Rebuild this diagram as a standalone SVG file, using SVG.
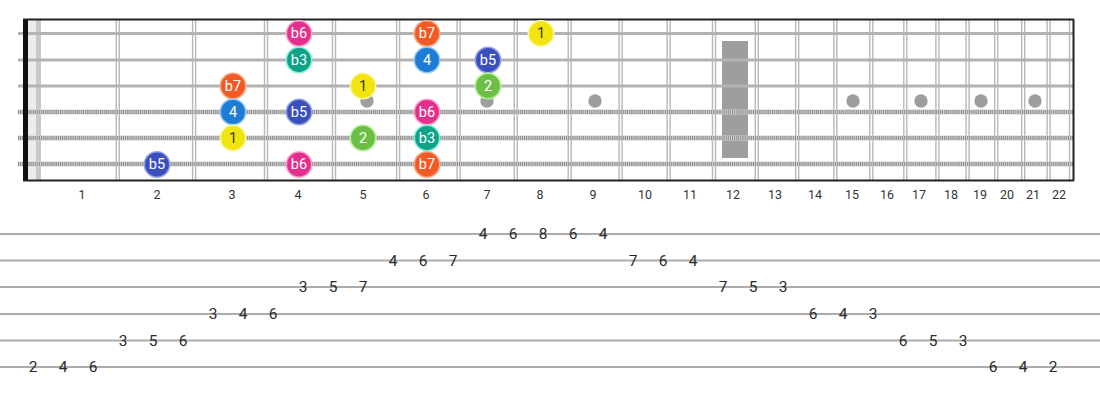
<svg xmlns="http://www.w3.org/2000/svg" width="1100" height="400" viewBox="0 0 1100 400">
<style>
.fw{stroke:#b8b8b8;stroke-width:1.4}
.ps{stroke:#b3b3b3;stroke-width:2.8}
.wb{stroke:#cfcfcf;stroke-width:5}
.wd{stroke:#8c8c8c;stroke-width:4;stroke-dasharray:1 1.1}
.dot{fill:#9e9e9e}
.fn{font-family:Roboto,"Liberation Sans",sans-serif;font-size:12.5px;fill:#333;text-anchor:middle}
.tl{stroke:#acacac;stroke-width:1.8}
.tn{font-family:Roboto,"Liberation Sans",sans-serif;font-size:15.5px;fill:#2a2a2a;text-anchor:middle;dominant-baseline:central}
.nt{font-family:Roboto,"Liberation Sans",sans-serif;font-size:14.5px;fill:#fff;text-anchor:middle;dominant-baseline:central}
.nt.dk{fill:#333}
.c{stroke-width:1.6}
.b6{fill:#e4308c;stroke:#f8a6cf}
.b7{fill:#f15a24;stroke:#f9a882}
.r1{fill:#f2e50f;stroke:#fbf6a3}
.b3{fill:#10a389;stroke:#86f0da}
.p4{fill:#1c7cd6;stroke:#8fc7f5}
.b5{fill:#3b4fbf;stroke:#97a3ea}
.s2{fill:#6bbf47;stroke:#b8f190}
</style>
<g id="fretboard">
<rect x="23" y="19" width="1051" height="162" fill="#fff"/>
<rect x="28" y="19" width="13" height="162" fill="#ececec"/>
<rect x="36" y="19" width="5" height="162" fill="#c9c9c9"/>
<g id="frets">
<line class="fw" x1="116.3" y1="20" x2="116.3" y2="180"/><line class="fw" x1="119.3" y1="20" x2="119.3" y2="180"/>
<line class="fw" x1="192.6" y1="20" x2="192.6" y2="180"/><line class="fw" x1="195.6" y1="20" x2="195.6" y2="180"/>
<line class="fw" x1="264.5" y1="20" x2="264.5" y2="180"/><line class="fw" x1="267.5" y1="20" x2="267.5" y2="180"/>
<line class="fw" x1="332.5" y1="20" x2="332.5" y2="180"/><line class="fw" x1="335.5" y1="20" x2="335.5" y2="180"/>
<line class="fw" x1="396.6" y1="20" x2="396.6" y2="180"/><line class="fw" x1="399.6" y1="20" x2="399.6" y2="180"/>
<line class="fw" x1="457.1" y1="20" x2="457.1" y2="180"/><line class="fw" x1="460.1" y1="20" x2="460.1" y2="180"/>
<line class="fw" x1="514.3" y1="20" x2="514.3" y2="180"/><line class="fw" x1="517.3" y1="20" x2="517.3" y2="180"/>
<line class="fw" x1="568.2" y1="20" x2="568.2" y2="180"/><line class="fw" x1="571.2" y1="20" x2="571.2" y2="180"/>
<line class="fw" x1="619.1" y1="20" x2="619.1" y2="180"/><line class="fw" x1="622.1" y1="20" x2="622.1" y2="180"/>
<line class="fw" x1="667.2" y1="20" x2="667.2" y2="180"/><line class="fw" x1="670.2" y1="20" x2="670.2" y2="180"/>
<line class="fw" x1="712.5" y1="20" x2="712.5" y2="180"/><line class="fw" x1="715.5" y1="20" x2="715.5" y2="180"/>
<line class="fw" x1="755.3" y1="20" x2="755.3" y2="180"/><line class="fw" x1="758.3" y1="20" x2="758.3" y2="180"/>
<line class="fw" x1="795.7" y1="20" x2="795.7" y2="180"/><line class="fw" x1="798.7" y1="20" x2="798.7" y2="180"/>
<line class="fw" x1="833.8" y1="20" x2="833.8" y2="180"/><line class="fw" x1="836.8" y1="20" x2="836.8" y2="180"/>
<line class="fw" x1="869.8" y1="20" x2="869.8" y2="180"/><line class="fw" x1="872.8" y1="20" x2="872.8" y2="180"/>
<line class="fw" x1="903.8" y1="20" x2="903.8" y2="180"/><line class="fw" x1="906.8" y1="20" x2="906.8" y2="180"/>
<line class="fw" x1="935.9" y1="20" x2="935.9" y2="180"/><line class="fw" x1="938.9" y1="20" x2="938.9" y2="180"/>
<line class="fw" x1="966.1" y1="20" x2="966.1" y2="180"/><line class="fw" x1="969.1" y1="20" x2="969.1" y2="180"/>
<line class="fw" x1="994.7" y1="20" x2="994.7" y2="180"/><line class="fw" x1="997.7" y1="20" x2="997.7" y2="180"/>
<line class="fw" x1="1021.7" y1="20" x2="1021.7" y2="180"/><line class="fw" x1="1024.7" y1="20" x2="1024.7" y2="180"/>
<line class="fw" x1="1047.1" y1="20" x2="1047.1" y2="180"/><line class="fw" x1="1050.1" y1="20" x2="1050.1" y2="180"/>
<line class="fw" x1="1069.5" y1="20" x2="1069.5" y2="180"/>
</g>
<g id="inlays">
<circle class="dot" cx="367" cy="101" r="6.7"/>
<circle class="dot" cx="487" cy="101" r="6.7"/>
<circle class="dot" cx="595" cy="101" r="6.7"/>
<rect class="dot" x="722" y="41" width="26" height="117"/>
<circle class="dot" cx="853" cy="101" r="6.7"/>
<circle class="dot" cx="921" cy="101" r="6.7"/>
<circle class="dot" cx="981" cy="101" r="6.7"/>
<circle class="dot" cx="1035" cy="101" r="6.7"/>
</g>
<g id="strings">
<line class="ps" x1="18" y1="33.5" x2="1074" y2="33.5"/>
<line class="ps" x1="18" y1="60" x2="1074" y2="60"/>
<line class="ps" x1="18" y1="86" x2="1074" y2="86"/>
<line class="wb" x1="18" y1="112" x2="1074" y2="112"/><line class="wd" x1="18" y1="112" x2="1074" y2="112"/>
<line class="wb" x1="18" y1="138" x2="1074" y2="138"/><line class="wd" x1="18" y1="138" x2="1074" y2="138"/>
<line class="wb" x1="18" y1="164" x2="1074" y2="164"/><line class="wd" x1="18" y1="164" x2="1074" y2="164"/>
</g>
<rect x="23" y="19" width="5" height="162" fill="#111"/>
<line x1="23" y1="19.5" x2="1074" y2="19.5" stroke="#222" stroke-width="2"/>
<line x1="23" y1="180.5" x2="1074" y2="180.5" stroke="#222" stroke-width="2"/>
<line x1="1073.5" y1="19" x2="1073.5" y2="181" stroke="#222" stroke-width="2"/>
</g>
<g id="fret-numbers">
<text class="fn" x="82" y="199">1</text>
<text class="fn" x="157" y="199">2</text>
<text class="fn" x="232" y="199">3</text>
<text class="fn" x="298" y="199">4</text>
<text class="fn" x="363" y="199">5</text>
<text class="fn" x="426" y="199">6</text>
<text class="fn" x="487" y="199">7</text>
<text class="fn" x="540" y="199">8</text>
<text class="fn" x="593" y="199">9</text>
<text class="fn" x="645" y="199">10</text>
<text class="fn" x="690" y="199">11</text>
<text class="fn" x="733" y="199">12</text>
<text class="fn" x="775" y="199">13</text>
<text class="fn" x="815" y="199">14</text>
<text class="fn" x="852" y="199">15</text>
<text class="fn" x="887" y="199">16</text>
<text class="fn" x="919" y="199">17</text>
<text class="fn" x="951" y="199">18</text>
<text class="fn" x="980" y="199">19</text>
<text class="fn" x="1007" y="199">20</text>
<text class="fn" x="1033" y="199">21</text>
<text class="fn" x="1059" y="199">22</text>
</g>
<g id="notes">
<g id="n-s1-f4"><circle class="c b6" cx="299" cy="33.5" r="12.7"/><text class="nt" x="299" y="33.5">b6</text></g>
<g id="n-s1-f6"><circle class="c b7" cx="427" cy="33.5" r="12.7"/><text class="nt" x="427" y="33.5">b7</text></g>
<g id="n-s1-f8"><circle class="c r1" cx="541" cy="33.5" r="12.7"/><text class="nt dk" x="541" y="33.5">1</text></g>
<g id="n-s2-f4"><circle class="c b3" cx="299" cy="60" r="12.7"/><text class="nt" x="299" y="60">b3</text></g>
<g id="n-s2-f6"><circle class="c p4" cx="427" cy="60" r="12.7"/><text class="nt" x="427" y="60">4</text></g>
<g id="n-s2-f7"><circle class="c b5" cx="488" cy="60" r="12.7"/><text class="nt" x="488" y="60">b5</text></g>
<g id="n-s3-f3"><circle class="c b7" cx="233" cy="86" r="12.7"/><text class="nt" x="233" y="86">b7</text></g>
<g id="n-s3-f5"><circle class="c r1" cx="363" cy="86" r="12.7"/><text class="nt dk" x="363" y="86">1</text></g>
<g id="n-s3-f7"><circle class="c s2" cx="488" cy="86" r="12.7"/><text class="nt" x="488" y="86">2</text></g>
<g id="n-s4-f3"><circle class="c p4" cx="233" cy="112" r="12.7"/><text class="nt" x="233" y="112">4</text></g>
<g id="n-s4-f4"><circle class="c b5" cx="299" cy="112" r="12.7"/><text class="nt" x="299" y="112">b5</text></g>
<g id="n-s4-f6"><circle class="c b6" cx="427" cy="112" r="12.7"/><text class="nt" x="427" y="112">b6</text></g>
<g id="n-s5-f3"><circle class="c r1" cx="233" cy="138" r="12.7"/><text class="nt dk" x="233" y="138">1</text></g>
<g id="n-s5-f5"><circle class="c s2" cx="363" cy="138" r="12.7"/><text class="nt" x="363" y="138">2</text></g>
<g id="n-s5-f6"><circle class="c b3" cx="427" cy="138" r="12.7"/><text class="nt" x="427" y="138">b3</text></g>
<g id="n-s6-f2"><circle class="c b5" cx="157" cy="164.5" r="12.7"/><text class="nt" x="157" y="164.5">b5</text></g>
<g id="n-s6-f4"><circle class="c b6" cx="299" cy="164.5" r="12.7"/><text class="nt" x="299" y="164.5">b6</text></g>
<g id="n-s6-f6"><circle class="c b7" cx="427" cy="164.5" r="12.7"/><text class="nt" x="427" y="164.5">b7</text></g>
</g>
<g id="tab">
<line class="tl" x1="0" y1="234" x2="1100" y2="234"/>
<line class="tl" x1="0" y1="260.5" x2="1100" y2="260.5"/>
<line class="tl" x1="0" y1="287" x2="1100" y2="287"/>
<line class="tl" x1="0" y1="314" x2="1100" y2="314"/>
<line class="tl" x1="0" y1="340.5" x2="1100" y2="340.5"/>
<line class="tl" x1="0" y1="367" x2="1100" y2="367"/>
<text class="tn" x="483" y="234">4</text><text class="tn" x="513" y="234">6</text><text class="tn" x="543" y="234">8</text><text class="tn" x="573" y="234">6</text><text class="tn" x="603" y="234">4</text>
<text class="tn" x="393" y="260.5">4</text><text class="tn" x="423" y="260.5">6</text><text class="tn" x="453" y="260.5">7</text>
<text class="tn" x="633" y="260.5">7</text><text class="tn" x="663" y="260.5">6</text><text class="tn" x="693" y="260.5">4</text>
<text class="tn" x="303" y="287">3</text><text class="tn" x="333" y="287">5</text><text class="tn" x="363" y="287">7</text>
<text class="tn" x="723" y="287">7</text><text class="tn" x="753" y="287">5</text><text class="tn" x="783" y="287">3</text>
<text class="tn" x="213" y="314">3</text><text class="tn" x="243" y="314">4</text><text class="tn" x="273" y="314">6</text>
<text class="tn" x="813" y="314">6</text><text class="tn" x="843" y="314">4</text><text class="tn" x="873" y="314">3</text>
<text class="tn" x="123" y="340.5">3</text><text class="tn" x="153" y="340.5">5</text><text class="tn" x="183" y="340.5">6</text>
<text class="tn" x="903" y="340.5">6</text><text class="tn" x="933" y="340.5">5</text><text class="tn" x="963" y="340.5">3</text>
<text class="tn" x="33" y="367">2</text><text class="tn" x="63" y="367">4</text><text class="tn" x="93" y="367">6</text>
<text class="tn" x="993" y="367">6</text><text class="tn" x="1023" y="367">4</text><text class="tn" x="1053" y="367">2</text>
</g>
</svg>
